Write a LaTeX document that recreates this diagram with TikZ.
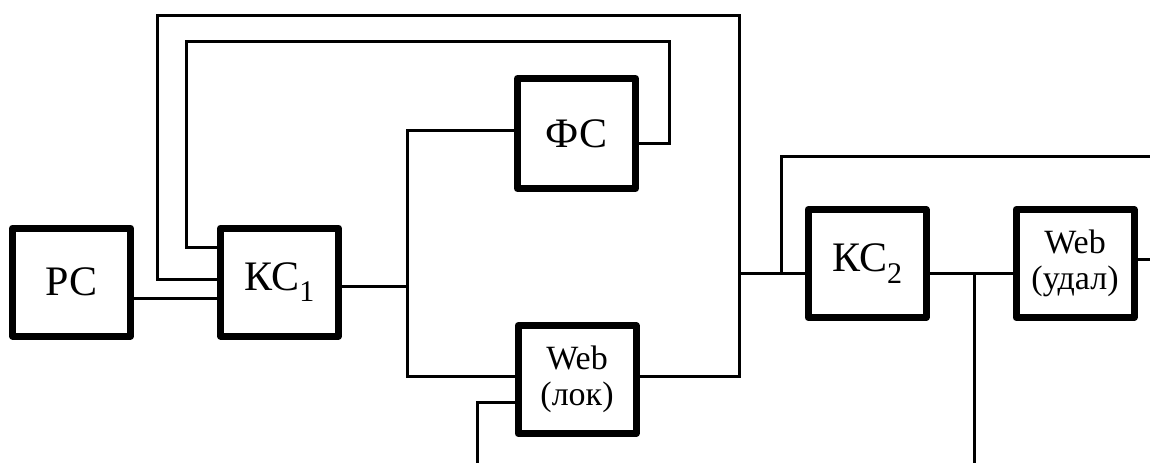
\documentclass[tikz,border=0pt]{standalone}
\usepackage{fontspec}
\setmainfont{Liberation Serif}
\tikzset{
  blk/.style={draw, line width=7pt, line join=round, minimum width=118pt, minimum height=108pt, inner sep=0pt, font=\fontsize{42}{46}\selectfont, align=center},
  webblk/.style={blk, font=\fontsize{34}{36}\selectfont},
  wire/.style={line width=3pt, line join=miter}
}
\newcommand{\sbs}[1]{\raisebox{-0.28em}{\fontsize{30}{30}\selectfont #1}}
\begin{document}
\begin{tikzpicture}[x=1pt,y=-1pt]
\useasboundingbox (0,0) rectangle (1150,463);
\node[blk] (pc) at (71.5,282) {РС};
\node[blk] (kc1) at (279.5,282) {КС\sbs{1}};
\node[blk, minimum height=110pt] (fc) at (576.5,133.5) {ФС};
\node[webblk] (wl) at (577,379.5) {Web\\(лок)};
\node[blk] (kc2) at (867,263.5) {КС\sbs{2}};
\node[webblk] (wr) at (1075,263.5) {Web\\(удал)};
% rail coordinates
\coordinate (y298) at (0,298);
\coordinate (y279) at (0,279);
\coordinate (y247) at (0,247);
\coordinate (y286) at (0,286);
\coordinate (y130) at (0,130);
\coordinate (y143) at (0,143);
\coordinate (y376) at (0,376);
\coordinate (y402) at (0,402);
\coordinate (y273) at (0,273);
\coordinate (y259) at (0,259);
\coordinate (oL) at (157,15);
\coordinate (oR) at (739,15);
\coordinate (iL) at (186,41);
\coordinate (iR) at (669,41);
\coordinate (bus) at (407,286);
\coordinate (br) at (781,156);
\coordinate (redge) at (1150,156);
\coordinate (wlx) at (477,463);
\coordinate (kx) at (974,463);
\coordinate (wedge) at (1150,259);
% connectors
\draw[wire] (pc.east |- y298) -- (kc1.west |- y298);
\draw[wire] (kc1.west |- y279) -| (oL) -- (oR) |- (wl.east |- y376);
\draw[wire] (kc1.west |- y247) -| (iL) -- (iR) |- (fc.east |- y143);
\draw[wire] (kc1.east |- y286) -- (bus);
\draw[wire] (fc.west |- y130) -| (bus |- y376) -- (wl.west |- y376);
\draw[wire] (wl.west |- y402) -| (wlx);
\draw[wire] (oR |- y273) -- (kc2.west |- y273);
\draw[wire] (br |- y273) -- (br) -- (redge);
\draw[wire] (kc2.east |- y273) -- (wr.west |- y273);
\draw[wire] (kx |- y273) -- (kx);
\draw[wire] (wr.east |- y259) -- (wedge);
\end{tikzpicture}
\end{document}
